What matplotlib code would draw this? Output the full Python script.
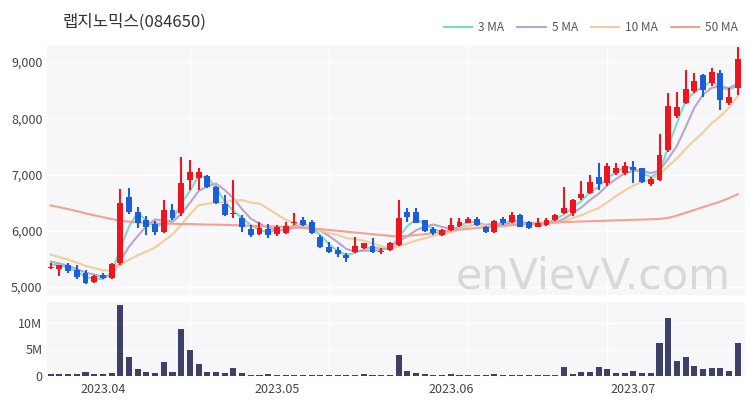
import numpy as np
import pandas as pd
import matplotlib
matplotlib.use('Agg')
import matplotlib.pyplot as plt

plt.rcParams['font.family'] = ['Noto Sans CJK KR', 'DejaVu Sans']

# 거래일 (휴장일 제외)
holidays = ['2023-05-01', '2023-05-05', '2023-05-29', '2023-06-06']
dates = [d for d in pd.bdate_range('2023-03-24', '2023-07-19') if d.strftime('%Y-%m-%d') not in holidays]

opens = [5340, 5320, 5390, 5300, 5250, 5090, 5210, 5160, 5430, 6600,
         6330, 6190, 6120, 5980, 6370, 6310, 6900, 6940, 6980, 6780,
         6470, 6290, 6230, 6030, 5940, 6030, 5940, 5960, 6130, 6190,
         6160, 5890, 5710, 5660, 5570, 5620, 5690, 5730, 5620, 5660,
         5750, 6330, 6330, 6190, 6030, 5920, 6010, 6080, 6140, 6210,
         6070, 5980, 6210, 6150, 6280, 6150, 6070, 6100, 6190, 6310,
         6310, 6580, 6670, 6950, 6850, 7030, 7020, 7130, 7110, 6830,
         6900, 7430, 8040, 8270, 8480, 8770, 8620, 8800, 8270, 8530]
highs = [5420, 5400, 5420, 5390, 5300, 5210, 5250, 5430, 6740, 6760,
         6420, 6260, 6170, 6545, 6470, 7310, 7250, 7110, 6990, 6800,
         6630, 6900, 6280, 6100, 6150, 6120, 6100, 6160, 6310, 6240,
         6190, 5920, 5800, 5710, 5600, 5890, 5790, 5870, 5690, 5800,
         6545, 6400, 6400, 6200, 6060, 6030, 6230, 6230, 6240, 6240,
         6090, 6190, 6250, 6330, 6290, 6170, 6220, 6220, 6300, 6780,
         6560, 6880, 7000, 7200, 7200, 7200, 7220, 7240, 7120, 6950,
         7720, 8450, 8460, 8850, 8800, 8790, 8900, 8850, 8530, 9260]
lows = [5330, 5200, 5250, 5150, 5050, 5080, 5140, 5150, 5390, 6300,
        6050, 5920, 5920, 5970, 6200, 6270, 6720, 6720, 6760, 6470,
        6260, 6230, 5980, 5890, 5920, 5880, 5900, 5940, 6110, 6080,
        5940, 5690, 5600, 5540, 5440, 5610, 5680, 5610, 5580, 5650,
        5730, 6150, 6130, 5980, 5930, 5910, 6000, 6070, 6130, 6090,
        5970, 5970, 6100, 6140, 6060, 6040, 6060, 6090, 6180, 6300,
        6270, 6550, 6650, 6720, 6800, 7000, 7000, 6850, 6850, 6800,
        6890, 7400, 8000, 8250, 8440, 8370, 8580, 8140, 8230, 8420]
closes = [5360, 5390, 5280, 5180, 5070, 5200, 5160, 5410, 6490, 6330,
          6140, 6070, 5980, 6370, 6230, 6850, 7040, 7040, 6780, 6490,
          6280, 6310, 6070, 5930, 6050, 5930, 6060, 6080, 6160, 6100,
          5960, 5710, 5620, 5590, 5510, 5730, 5780, 5620, 5650, 5780,
          6230, 6240, 6140, 5990, 5960, 6010, 6100, 6150, 6210, 6100,
          5980, 6170, 6140, 6280, 6070, 6050, 6140, 6190, 6280, 6400,
          6545, 6650, 6860, 6830, 7150, 7110, 7150, 7080, 6860, 6920,
          7340, 8210, 8200, 8520, 8660, 8500, 8820, 8320, 8380, 9050]
volumes = [0.3, 0.3, 0.3, 0.35, 0.75, 0.3, 0.3, 0.6, 13.4, 3.65,
           1.25, 0.8, 0.5, 2.7, 0.75, 8.9, 4.85, 2.3, 0.75, 0.75,
           0.5, 1.5, 0.5, 0.2, 0.2, 0.3, 0.2, 0.25, 0.2, 0.2,
           0.25, 0.2, 0.25, 0.15, 0.2, 0.1, 0.35, 0.1, 0.1, 0.15,
           4.0, 0.9, 0.5, 0.3, 0.25, 0.2, 0.35, 0.25, 0.2, 0.2,
           0.15, 0.3, 0.2, 0.15, 0.1, 0.1, 0.15, 0.15, 0.2, 1.6,
           0.4, 0.8, 0.8, 1.6, 1.4, 0.6, 0.6, 0.9, 0.5, 0.5,
           6.2, 10.9, 2.9, 3.6, 1.9, 1.3, 1.5, 1.5, 1.0, 6.3]
# 차트 이전 종가 (이동평균 시작값용)
prev_closes = [5800, 5750, 5700, 5650, 5600, 5550, 5500, 5450, 5400]
# 50일 이동평균
ma50 = [6450, 6420, 6385, 6350, 6310, 6275, 6240, 6210, 6180, 6160,
        6150, 6140, 6135, 6130, 6125, 6120, 6120, 6115, 6110, 6110,
        6105, 6100, 6095, 6090, 6085, 6080, 6075, 6070, 6060, 6050,
        6040, 6030, 6015, 6000, 5985, 5970, 5955, 5940, 5925, 5910,
        5900, 5910, 5925, 5940, 5960, 5980, 6000, 6020, 6035, 6050,
        6065, 6080, 6090, 6100, 6110, 6120, 6130, 6140, 6150, 6155,
        6160, 6165, 6170, 6175, 6180, 6185, 6190, 6195, 6200, 6205,
        6210, 6230, 6270, 6320, 6370, 6420, 6470, 6520, 6580, 6650]

n = len(dates)
x = np.arange(n)
allc = pd.Series(prev_closes + closes)
ma3 = allc.rolling(3).mean().values[len(prev_closes):]
ma5 = allc.rolling(5).mean().values[len(prev_closes):]
ma10 = allc.rolling(10).mean().values[len(prev_closes):]

red = '#f0141e'
blue = '#1a5fd8'
bg = '#f7f7f9'

fig = plt.figure(figsize=(7.5, 4), dpi=100)
ax = fig.add_axes([0.063, 0.2625, 0.93, 0.625])
axv = fig.add_axes([0.063, 0.055, 0.93, 0.19], sharex=ax)

for a in (ax, axv):
    a.set_facecolor(bg)
    for s in a.spines.values():
        s.set_visible(False)
    a.tick_params(length=0, colors='#444444', labelsize=9)
    for gx in [16, 32, 48, 64]:
        a.axvline(gx, color='white', lw=1, zorder=0)

# 이동평균선
ax.plot(x, ma3, color='#7fd8cc', lw=1.5, label='3 MA', zorder=2)
ax.plot(x, ma5, color='#b9a6cc', lw=1.5, label='5 MA', zorder=2)
ax.plot(x, ma10, color='#f5cc9c', lw=1.5, label='10 MA', zorder=2)
ax.plot(x, ma50, color='#f5a090', lw=1.5, label='50 MA', zorder=2)

# 캔들
for i in range(n):
    c = red if closes[i] >= opens[i] else blue
    ax.vlines(x[i], lows[i], highs[i], color=c, lw=1.5, zorder=3)
    lo = min(opens[i], closes[i])
    h = max(abs(closes[i] - opens[i]), 15)
    ax.bar(x[i], h, bottom=lo, width=0.68, color=c, zorder=4)

ax.set_ylim(4860, 9300)
ax.set_yticks([5000, 6000, 7000, 8000, 9000])
ax.set_yticklabels(['5,000', '6,000', '7,000', '8,000', '9,000'])
ax.grid(axis='y', color='white', lw=1)
ax.set_axisbelow(True)
ax.tick_params(axis='x', labelbottom=False)
ax.set_xlim(-0.4, n - 0.2)

ax.text(0.98, 0.025, 'enVievV.com', transform=ax.transAxes, ha='right', va='baseline',
        fontsize=31, color='#d8d8d8', family='DejaVu Sans', zorder=1)

ax.legend(loc='lower right', bbox_to_anchor=(1.005, 1.0), ncol=4, frameon=False,
          fontsize=8.5, handlelength=2.4, columnspacing=1.1, handletextpad=0.5,
          labelcolor='#555555')
fig.text(0.083, 0.945, '랩지노믹스(084650)', fontsize=12, color='#333333', va='center')

# 거래량
axv.bar(x, volumes, width=0.7, color='#3f4068', zorder=3)
axv.set_ylim(-0.4, 14)
axv.set_yticks([0, 5, 10])
axv.set_yticklabels(['0', '5M', '10M'])
axv.grid(axis='y', color='white', lw=1)
axv.set_axisbelow(True)
tick_idx = [i for i in range(n) if i == 0 or dates[i].month != dates[i - 1].month][1:]
axv.set_xticks(tick_idx)
axv.set_xticklabels([dates[i].strftime('%Y.%m') for i in tick_idx])

fig.savefig('out.png', dpi=100)
